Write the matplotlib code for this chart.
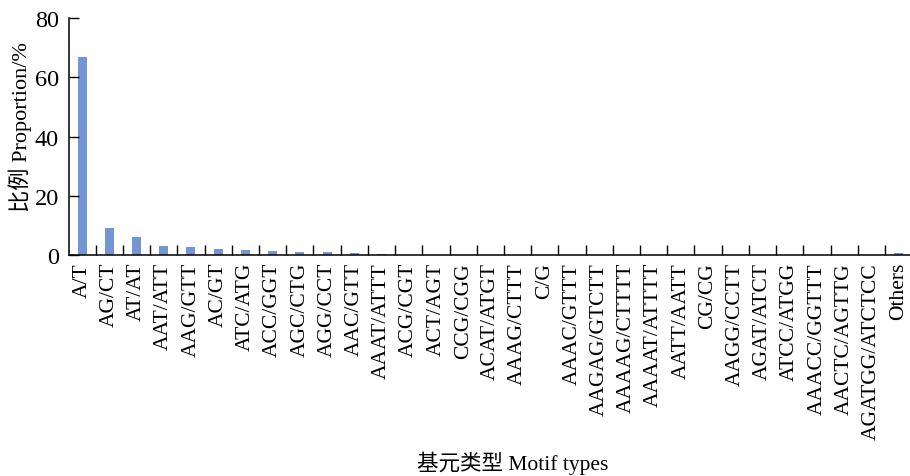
import matplotlib
matplotlib.use("Agg")
import matplotlib.pyplot as plt
import numpy as np

plt.rcParams['font.family'] = ['Liberation Serif', 'Noto Sans CJK SC']
plt.rcParams['font.size'] = 15

motifs = ['A/T', 'AG/CT', 'AT/AT', 'AAT/ATT', 'AAG/GTT', 'AC/GT', 'ATC/ATG',
          'ACC/GGT', 'AGC/CTG', 'AGG/CCT', 'AAC/GTT', 'AAAT/ATTT', 'ACG/CGT',
          'ACT/AGT', 'CCG/CGG', 'ACAT/ATGT', 'AAAG/CTTT', 'C/G', 'AAAC/GTTT',
          'AAGAG/GTCTT', 'AAAAG/CTTTT', 'AAAAT/ATTTT', 'AATT/AATT', 'CG/CG',
          'AAGG/CCTT', 'AGAT/ATCT', 'ATCC/ATGG', 'AAACC/GGTTT', 'AACTC/AGTTG',
          'AGATGG/ATCTCC', 'Others']
proportion = [66.8, 9.1, 6.0, 2.9, 2.7, 2.0, 1.8, 1.2, 1.0, 1.0, 0.7, 0.3, 0.08,
              0.06, 0.05, 0.05, 0.04, 0.04, 0.03, 0.03, 0.03, 0.03, 0.03, 0.02,
              0.02, 0.02, 0.02, 0.02, 0.02, 0.02, 0.7]

fig = plt.figure(figsize=(9.1, 4.77), dpi=100)
W, H = 910, 477
ax = fig.add_axes([68.5 / W, 1 - 256 / H, (912.2 - 68.5) / W, (256 - 19.3) / H])

x = np.arange(len(motifs))
ax.bar(x, proportion, width=0.33, color='#7395d1')

ax.set_xlim(-0.5, len(motifs) - 0.5)
ax.set_ylim(0, 80)
ax.set_yticks([0, 20, 40, 60, 80])
ax.tick_params(axis='y', direction='in', length=7, width=1, pad=7, labelsize=17.5)

ax.set_xticks(x)
ax.set_xticklabels(motifs, rotation=90, va='top', ha='center')
ax.tick_params(axis='x', which='major', length=0, pad=5, labelsize=15.5)
ax.set_xticks(x[:-1] + 0.5, minor=True)
ax.tick_params(axis='x', which='minor', direction='in', length=7, width=1)

for s in ['top', 'right']:
    ax.spines[s].set_visible(False)
for s in ['left', 'bottom']:
    ax.spines[s].set_linewidth(1.1)

fig.text(20 / W, 1 - 127 / H, '比例 Proportion/%', rotation=90,
         ha='center', va='center', fontsize=16)
fig.text(513 / W, 1 - 463 / H, '基元类型 Motif types',
         ha='center', va='center', fontsize=15.5)

fig.savefig('out.png', dpi=100)
